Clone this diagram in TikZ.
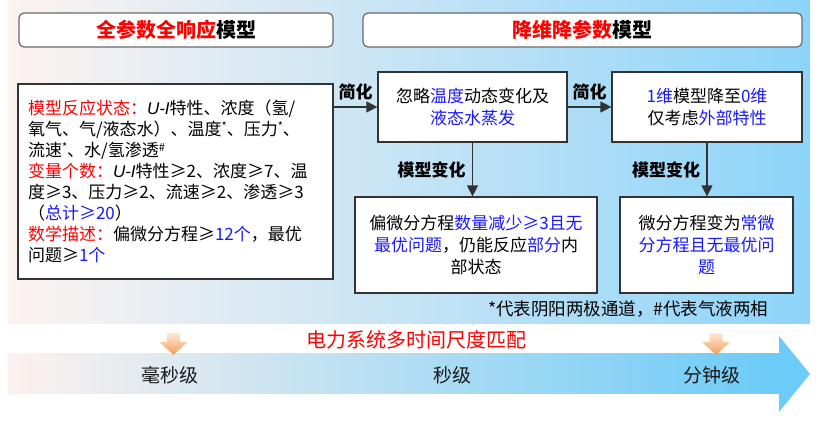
\documentclass[tikz,border=0pt]{standalone}
\usepackage{fontspec}
\setmainfont{Noto Sans CJK SC}
\newfontfamily\uifont{Liberation Sans}
\usetikzlibrary{positioning, arrows.meta}
\definecolor{hlred}{RGB}{255,0,0}
\definecolor{hlblue}{RGB}{25,25,255}
\definecolor{boxline}{RGB}{51,51,51}
\definecolor{titleline}{RGB}{105,105,105}
\definecolor{panelleft}{RGB}{253,243,240}
\definecolor{panelmid}{RGB}{212,232,247}
\definecolor{panelright}{RGB}{141,212,250}
\definecolor{bandleft}{RGB}{253,241,238}
\definecolor{bandmid}{RGB}{220,235,247}
\definecolor{bandright}{RGB}{108,203,248}
\definecolor{orangetop}{RGB}{255,232,214}
\definecolor{orangebot}{RGB}{244,158,86}
\newcommand{\redtxt}[1]{\textcolor{hlred}{#1}}
\newcommand{\bluetxt}[1]{\textcolor{hlblue}{#1}}
\newcommand{\uichar}{{\uifont\itshape U-I}}
\newcommand{\notemark}[1]{\raisebox{5pt}{\fontsize{11}{11}\selectfont #1}}
\tikzset{
>={Triangle[length=11pt,width=11pt]}, % filled arrow heads
box/.style={draw=boxline, line width=1.2pt, fill=white, align=center, font=\fontsize{17}{22}\selectfont}, % content boxes
titlebox/.style={draw=titleline, line width=1.2pt, rounded corners=5pt, fill=white, minimum height=34pt, font=\fontsize{20}{22}\selectfont\bfseries}, % headers
lab/.style={font=\fontsize{17}{20}\selectfont\bfseries, text=black}, % arrow labels
timelab/.style={font=\fontsize{19}{22}\selectfont, text=black!90}, % time scale labels
}

\begin{document}
\begin{tikzpicture}[x=1pt, y=-1pt]
    \useasboundingbox (0,0) rectangle (816,423);
    % background panel and time axis
    \path[left color=panelleft, middle color=panelmid, right color=panelright] (8,0) rectangle (810,323);
    \path[left color=bandleft, middle color=bandmid, right color=bandright] (8,353) rectangle (779,393);
    \fill[bandright] (779,336) -- (810,374) -- (779,412) -- cycle;
    \foreach \x in {173.5,716}
      \path[top color=orangetop, bottom color=orangebot] (\x-6.5,333) -- (\x+6.5,333) -- (\x+6.5,342) -- (\x+14,342) -- (\x,355) -- (\x-14,342) -- (\x-6.5,342) -- cycle;

    \node[titlebox, minimum width=314pt] (t1) at (176,30) {\redtxt{全参数全响应}模型};
    \node[titlebox, minimum width=439pt] (t2) at (582.5,30) {\redtxt{降维降参数}模型};

    \node[box, minimum height=195pt, text width=295pt, inner xsep=10pt, align=left, font=\fontsize{17}{21}\selectfont] (lbox) at (175.5,181.5)
      {\redtxt{模型反应状态：}\uichar 特性、浓度（氢/\\
       氧气、气/液态水）、温度\notemark{*}、压力\notemark{*}、\\
       流速\notemark{*}、水/氢渗透\notemark{\#}\\
       \redtxt{变量个数：}\uichar 特性≥2、浓度≥7、温\\
       度≥3、压力≥2、流速≥2、渗透≥3\\
       （\bluetxt{总计≥20}）\\
       \redtxt{数学描述：}偏微分方程≥\bluetxt{12个}，最优\\
       问题≥\bluetxt{1个}};
    \node[box, minimum width=189pt, minimum height=70pt] (b2) at (472.5,107)
      {忽略\bluetxt{温度}动态变化及\\ \bluetxt{液态水蒸发}};
    \node[box, minimum width=190pt, minimum height=70pt] (b3) at (707,107)
      {\bluetxt{1维}模型降至\bluetxt{0维}\\ 仅考虑\bluetxt{外部特性}};
    \node[box, minimum width=242pt, minimum height=96pt] (b4) at (476,245)
      {偏微分方程\bluetxt{数量减少≥3且无}\\ \bluetxt{最优问题}，仍能反应\bluetxt{部分}内\\ 部状态};
    \node[box, minimum width=173pt, minimum height=96pt] (b5) at (706.5,245)
      {微分方程变为\bluetxt{常微}\\ \bluetxt{分方程且无最优问}\\ \bluetxt{题}};

    \draw[boxline, line width=1.2pt] (lbox.east |- b2.west) edge[->] node[lab, above=3pt] {简化} (b2.west)
    (b2.east) edge[->] node[lab, above=3pt] {简化} (b3.west)
    (b2.south) edge[->] node[lab, left=3pt] {模型变化} (b2.south |- b4.north)
    (b3.south) edge[->] node[lab, left=3pt] {模型变化} (b3.south |- b5.north);

    \node[font=\fontsize{17.5}{20}\selectfont, anchor=east] (note) at (772,309) {*代表阴阳两极通道，\#代表气液两相};
    \node[font=\fontsize{20}{22}\selectfont, text=hlred] (match) at (416,340) {电力系统多时间尺度匹配};
    \node[timelab] (ms) at (170,375) {毫秒级};
    \node[timelab] (sec) at (452,375) {秒级};
    \node[timelab] (min) at (712,375) {分钟级};
\end{tikzpicture}
\end{document}
